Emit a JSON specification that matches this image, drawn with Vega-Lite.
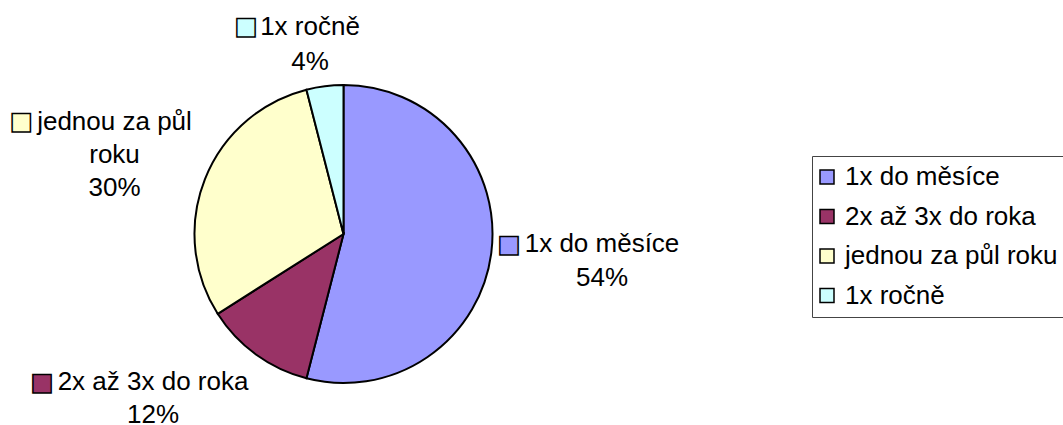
{
  "$schema": "https://vega.github.io/schema/vega-lite/v6.json",
  "width": 687,
  "height": 468,
  "autosize": {"type": "none"},
  "padding": {"left": 0, "top": 0, "right": 376, "bottom": 0},
  "background": "white",
  "config": {"view": {"stroke": null}, "font": "Liberation Sans"},
  "data": {
    "values": [
      {"idx": 1, "kategorie": "1x do měsíce", "podil": 54, "popis": "1x do měsíce\n54%"},
      {"idx": 2, "kategorie": "2x až 3x do roka", "podil": 12, "popis": "2x až 3x do roka\n12%"},
      {"idx": 3, "kategorie": "jednou za půl roku", "podil": 30, "popis": "jednou za půl\nroku\n30%"},
      {"idx": 4, "kategorie": "1x ročně", "podil": 4, "popis": "1x ročně\n4%"}
    ]
  },
  "transform": [
    {"stack": "podil", "groupby": [], "sort": [{"field": "idx", "order": "ascending"}], "as": ["t0", "t1"]}
  ],
  "encoding": {
    "theta": {"field": "t0", "type": "quantitative", "stack": null, "scale": {"domain": [0, 100], "zero": true, "nice": false}}
  },
  "layer": [
    {
      "mark": {"type": "arc", "outerRadius": 149, "stroke": "black", "strokeWidth": 2, "opacity": 1},
      "encoding": {
        "theta2": {"field": "t1"},
        "color": {
          "field": "kategorie",
          "type": "nominal",
          "sort": null,
          "scale": {"domain": ["1x do měsíce", "2x až 3x do roka", "jednou za půl roku", "1x ročně"], "range": ["#9999FF", "#993366", "#FFFFCC", "#CCFFFF"]},
          "legend": {
            "title": null,
            "orient": "none",
            "direction": "vertical",
            "legendX": 812,
            "legendY": 156,
            "symbolType": "square",
            "symbolSize": 196,
            "symbolStrokeColor": "black",
            "symbolStrokeWidth": 1.5,
            "symbolOpacity": 1,
            "symbolOffset": -6,
            "labelFont": "Liberation Sans",
            "labelFontSize": 26,
            "labelColor": "black",
            "labelOffset": 5,
            "labelLimit": 400,
            "rowPadding": 13.5,
            "padding": 8,
            "strokeColor": "#444444",
            "fillColor": "white"
          }
        }
      }
    },
    {
      "transform": [{"filter": "datum.idx == 1"}],
      "mark": {"type": "text", "radius": 258.7, "thetaOffset": 1.6092, "font": "Liberation Sans", "fontSize": 26, "lineBreak": "\n", "lineHeight": 34, "align": "center", "baseline": "middle", "color": "black"},
      "encoding": {"text": {"field": "popis"}}
    },
    {
      "transform": [{"filter": "datum.idx == 2"}],
      "mark": {"type": "text", "radius": 241.2, "thetaOffset": 0.6589, "font": "Liberation Sans", "fontSize": 26, "lineBreak": "\n", "lineHeight": 33, "align": "center", "baseline": "middle", "color": "black"},
      "encoding": {"text": {"field": "popis"}}
    },
    {
      "transform": [{"filter": "datum.idx == 3"}],
      "mark": {"type": "text", "radius": 254.9, "thetaOffset": 1.0203, "font": "Liberation Sans", "fontSize": 26, "lineBreak": "\n", "lineHeight": 33, "align": "center", "baseline": "middle", "color": "black"},
      "encoding": {"text": {"field": "popis"}}
    },
    {
      "transform": [{"filter": "datum.idx == 4"}],
      "mark": {"type": "text", "radius": 209.7, "thetaOffset": 0.0909, "font": "Liberation Sans", "fontSize": 26, "lineBreak": "\n", "lineHeight": 35, "align": "center", "baseline": "middle", "color": "black"},
      "encoding": {"text": {"field": "popis"}}
    },
    {
      "transform": [{"filter": "datum.idx == 1"}],
      "mark": {"type": "text", "text": "■", "radius": 166, "thetaOffset": 1.6371, "font": "DejaVu Sans", "fontSize": 24, "stroke": "black", "strokeWidth": 1.5, "align": "center", "baseline": "middle"},
      "encoding": {"fill": {"field": "kategorie", "type": "nominal", "scale": {"domain": ["1x do měsíce", "2x až 3x do roka", "jednou za půl roku", "1x ročně"], "range": ["#9999FF", "#993366", "#FFFFCC", "#CCFFFF"]}, "legend": null}}
    },
    {
      "transform": [{"filter": "datum.idx == 2"}],
      "mark": {"type": "text", "text": "■", "radius": 336.1, "thetaOffset": 0.8618, "font": "DejaVu Sans", "fontSize": 24, "stroke": "black", "strokeWidth": 1.5, "align": "center", "baseline": "middle"},
      "encoding": {"fill": {"field": "kategorie", "type": "nominal", "legend": null}}
    },
    {
      "transform": [{"filter": "datum.idx == 3"}],
      "mark": {"type": "text", "text": "■", "radius": 341, "thetaOffset": 0.8997, "font": "DejaVu Sans", "fontSize": 24, "stroke": "black", "strokeWidth": 1.5, "align": "center", "baseline": "middle"},
      "encoding": {"fill": {"field": "kategorie", "type": "nominal", "legend": null}}
    },
    {
      "transform": [{"filter": "datum.idx == 4"}],
      "mark": {"type": "text", "text": "■", "radius": 229, "thetaOffset": -0.1885, "font": "DejaVu Sans", "fontSize": 24, "stroke": "black", "strokeWidth": 1.5, "align": "center", "baseline": "middle"},
      "encoding": {"fill": {"field": "kategorie", "type": "nominal", "legend": null}}
    }
  ]
}
